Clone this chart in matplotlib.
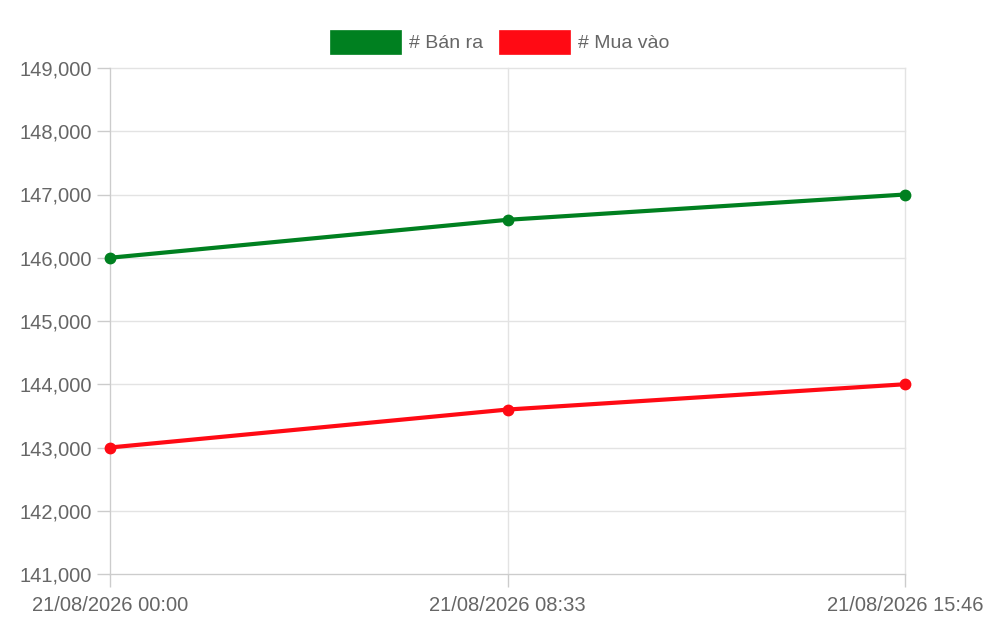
import matplotlib
matplotlib.use("Agg")
import matplotlib.pyplot as plt
from matplotlib.patches import Rectangle

plt.rcParams['font.family'] = ['Liberation Sans', 'DejaVu Sans']

labels = ["21/08/2026 00:00", "21/08/2026 08:33", "21/08/2026 15:46"]
ban_ra = [146000, 146600, 147000]
mua_vao = [143000, 143600, 144000]
series_names = ["# Bán ra", "# Mua vào"]
colors = ["#008020", "#ff0a14"]
yticks = [141000, 142000, 143000, 144000, 145000, 146000, 147000, 148000, 149000]

W, H = 1000, 629
fig = plt.figure(figsize=(W / 100, H / 100), dpi=100)
ax = fig.add_axes([110 / W, 1 - 574 / H, (905 - 110) / W, (574 - 68) / H])

x = list(range(len(labels)))
grid_c = "#e3e3e3"
for yt in yticks:
    ax.axhline(yt, color=grid_c, lw=1, zorder=0, clip_on=False)
for xi in x:
    ax.axvline(xi, color=grid_c, lw=1, zorder=0, clip_on=False)

for vals, c in zip([ban_ra, mua_vao], colors):
    ax.plot(x, vals, color=c, lw=3.0, marker='o', markersize=7.5, zorder=3, clip_on=False)

ax.set_xlim(0, len(labels) - 1)
ax.set_ylim(yticks[0], yticks[-1])
ax.set_yticks(yticks)
ax.set_yticklabels([f"{v:,}" for v in yticks])
ax.set_xticks(x)
ax.set_xticklabels(labels)
for s in ax.spines.values():
    s.set_visible(False)
ax.spines['left'].set_visible(True)
ax.spines['left'].set_color("#cccccc")
ax.spines['bottom'].set_visible(True)
ax.spines['bottom'].set_color("#cccccc")
ax.tick_params(axis='both', colors="#cccccc", labelcolor="#666666", labelsize=14.5, length=9.5, width=1)
ax.tick_params(axis='y', pad=3.5)
ax.tick_params(axis='x', pad=6.5)

# legend drawn at figure level
lx = [330, 499]
tx = [409, 578]
for i in range(2):
    fig.patches.append(Rectangle((lx[i] / W, 1 - 54 / H), 71 / W, 24 / H, transform=fig.transFigure,
                                 facecolor=colors[i], edgecolor=colors[i], lw=0.5))
    fig.text(tx[i] / W, 1 - 43 / H, series_names[i], color="#666666", fontsize=14, va='center', ha='left')

fig.savefig("out.png", dpi=100, facecolor="white")
